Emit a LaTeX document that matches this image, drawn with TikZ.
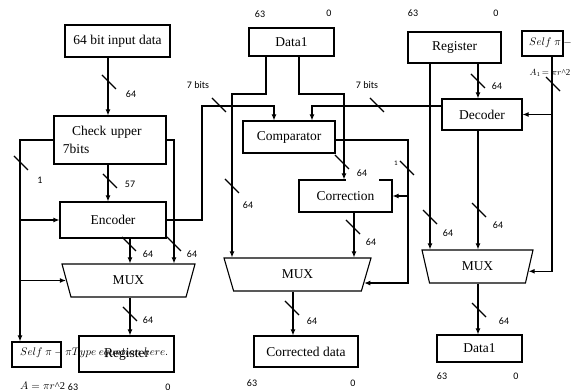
\documentclass[tikz,border=0pt]{standalone}
\usepackage{fontspec}
\setmainfont{Liberation Serif}
\newfontfamily\labfont{Carlito}
\usetikzlibrary{shapes.geometric,arrows.meta,calc}
\begin{document}
\begin{tikzpicture}[x=1pt,y=-1pt,
  box/.style={draw, line width=1.1pt, inner sep=0pt, font=\fontsize{13.5}{18}\selectfont},
  mux/.style={draw, line width=1.1pt, trapezium, trapezium stretches body=true, inner sep=0pt, minimum height=33pt, font=\fontsize{13.5}{16}\selectfont},
  ln/.style={line width=1.1pt},
  arr/.style={line width=1.1pt, -{Latex[length=6pt,width=5pt]}},
  lbl/.style={font=\labfont\fontsize{10}{12}\selectfont, inner sep=0.5pt},
  eq/.style={font=\fontsize{10.5}{13}\selectfont, inner sep=0pt},
  pics/bus/.style={code={\draw[line width=1.1pt] (-7,-7) -- (7,7);}}
]
\useasboundingbox (0,0) rectangle (574,390);
% helper coordinates
\coordinate (xA) at (108,0);
\coordinate (xB) at (130,0);
\coordinate (xC) at (174,0);
\coordinate (xL) at (20,0);
\coordinate (cD) at (202,106);
\coordinate (xE) at (274,0);
\coordinate (xJ) at (312,0);
\coordinate (cDl) at (232,94);
\coordinate (cDr) at (344,94);
\coordinate (xG) at (266,0);
\coordinate (xH) at (299,0);
\coordinate (xK) at (354,0);
\coordinate (xM) at (293,0);
\coordinate (xN) at (408,0);
\coordinate (xP) at (430,0);
\coordinate (xQ) at (478,0);
\coordinate (xR) at (552,0);

% left column
\node[box, minimum width=105pt, minimum height=32pt] (inp) at (117.5,41) {64 bit input data};
\node[box, minimum width=112pt, minimum height=48pt, text width=112pt, align=left] (chk) at (110,140) {\hspace*{18pt}Check upper\\\hspace*{9pt}7bits};
\node[box, minimum width=106pt, minimum height=36pt] (enc) at (113,220) {Encoder};
\node[mux, trapezium left angle=135, trapezium right angle=135, minimum width=133pt] (m1) at (128.5,280.5) {MUX};
\node[box, minimum width=95pt, minimum height=36pt] (reg1) at (126.5,354) {Register};
\node[box, minimum width=49pt, minimum height=25pt] (self1) at (36.5,354.5) {};
\node[eq, anchor=west] (eq1) at (20,353) {$Self\ \pi - \pi Type\ equation\ here.$};
\node[eq, anchor=west] (eq2) at (20,386) {$A = \pi r$\textasciicircum 2};

% middle column
\node[box, minimum width=85pt, minimum height=28pt] (d1) at (291.5,42) {Data1};
\node[box, minimum width=92pt, minimum height=32pt] (cmp) at (289,137) {Comparator};
\node[box, minimum width=93pt, minimum height=32pt] (cor) at (345.5,196) {Correction};
\node[mux, trapezium left angle=137, trapezium right angle=137, minimum width=147pt] (m2) at (297.5,274.5) {MUX};
\node[box, minimum width=104pt, minimum height=31pt] (cd) at (306,351.5) {Corrected data};

% right column
\node[box, minimum width=93pt, minimum height=31pt] (reg2) at (454.5,47.5) {Register};
\node[box, minimum width=80pt, minimum height=31pt] (dec) at (482,114.5) {Decoder};
\node[box, minimum width=41pt, minimum height=25pt] (self2) at (542.5,43.5) {};
\node[eq, anchor=west] (eq3) at (529,43) {$Self\ \pi - \pi Type\ equation\ here.$};
\node[mux, trapezium left angle=130, trapezium right angle=130, minimum width=111pt] (m3) at (477.5,266.5) {MUX};
\node[box, minimum width=85pt, minimum height=27pt] (d2) at (479.5,348.5) {Data1};

% labels
\node[lbl] (l1) at (131,94) {64};
\node[lbl] (l2) at (130,184) {57};
\node[lbl] (l3) at (40,180) {1};
\node[lbl] (l4) at (148,254) {64};
\node[lbl] (l5) at (192,254) {64};
\node[lbl] (l6) at (148,320) {64};
\node[lbl] (l7) at (198,85) {7 bits};
\node[lbl] (l8) at (367,85) {7 bits};
\node[lbl] (l9) at (248,205) {64};
\node[lbl, fill=white, minimum width=33pt, minimum height=18pt] (l10) at (362,173) {64};
\node[lbl, font=\labfont\fontsize{7}{8}\selectfont] (l11) at (396,163) {1};
\node[lbl] (l12) at (371,242) {64};
\node[lbl] (l13) at (312,321) {64};
\node[lbl] (l14) at (448,233) {64};
\node[lbl] (l15) at (497,86) {64};
\node[lbl] (l16) at (498,225) {64};
\node[lbl] (l17) at (504,321) {64};
\node[eq, font=\fontsize{9}{10}\selectfont] (l18) at (550,73) {$A_1\!= \pi r$\textasciicircum 2};

% bit numbers
\node[lbl] (n1) at (260,14) {63};
\node[lbl] (n2) at (329,13) {0};
\node[lbl] (n3) at (413,13) {63};
\node[lbl] (n4) at (496,13) {0};
\node[lbl] (n5) at (252,383) {63};
\node[lbl] (n6) at (353,383) {0};
\node[lbl] (n7) at (442,376) {63};
\node[lbl] (n8) at (516,376) {0};
\node[lbl] (n9) at (73,387) {63};
\node[lbl] (n10) at (168,387) {0};

% connectors left
\draw[arr] (inp.south -| xA) -- (chk.north -| xA);
\draw[arr] (chk.south -| xA) -- (enc.north -| xA);
\draw[arr] (chk.west) -- (chk.west -| xL) -- (self1.north -| xL);
\draw[arr] (enc.west -| xL) -- (enc.west);
\draw[arr] (m1.left side -| xL) -- (m1.left side);
\draw[arr] (chk.east) -| (m1.north -| xC);
\draw[arr] (enc.south -| xB) -- (m1.north -| xB);
\draw[arr] (m1.south -| xB) -- (reg1.north -| xB);
\draw[arr] (enc.east) -| (cD) -| (cmp.north -| xE);
% connectors middle
\draw[arr] (dec.west |- cD) -| (cmp.north -| xJ);
\draw[arr] (d1.south -| xG) |- (cDl) -- (m2.north -| cDl);
\draw[arr] (d1.south -| xH) |- (cDr) -- (cor.north -| cDr);
\coordinate (m2r) at ($(m2.bottom right corner)!0.25!(m2.top right corner)$);
\draw[arr] ([yshift=-3pt]cmp.east) -| (m2r -| xN) -- (m2r);
\draw[arr] (cor.east -| xN) -- (cor.east);
\draw[arr] (cor.south -| xK) -- (m2.north -| xK);
\draw[arr] (m2.south -| xM) -- (cd.north -| xM);
% connectors right
\draw[arr] (reg2.south -| xP) -- (m3.north -| xP);
\draw[arr] (reg2.south -| xQ) -- (dec.north -| xQ);
\draw[arr] (dec.south -| xQ) -- (m3.north -| xQ);
\coordinate (m3r) at ($(m3.bottom right corner)!0.36!(m3.top right corner)$);
\draw[arr] (self2.south -| xR) -- (m3r -| xR) -- (m3r);
\draw[arr] (dec.east -| xR) -- (dec.east);
\draw[arr] (m3.south -| xQ) -- (d2.north -| xQ);

% bus slashes
\pic at (109,82) {bus};
\pic at (110,181) {bus};
\pic at (21,163) {bus};
\pic at (174,244) {bus};
\pic at (129,244) {bus};
\pic at (130,314) {bus};
\pic at (219,105) {bus};
\pic at (377,105) {bus};
\pic at (232,186) {bus};
\pic at (342,162) {bus};
\pic at (407,168) {bus};
\pic at (353,227) {bus};
\pic at (292,308) {bus};
\pic at (430,217) {bus};
\pic at (478,81) {bus};
\pic at (479,210) {bus};
\pic at (553,84) {bus};
\pic at (479,310) {bus};
\end{tikzpicture}
\end{document}
